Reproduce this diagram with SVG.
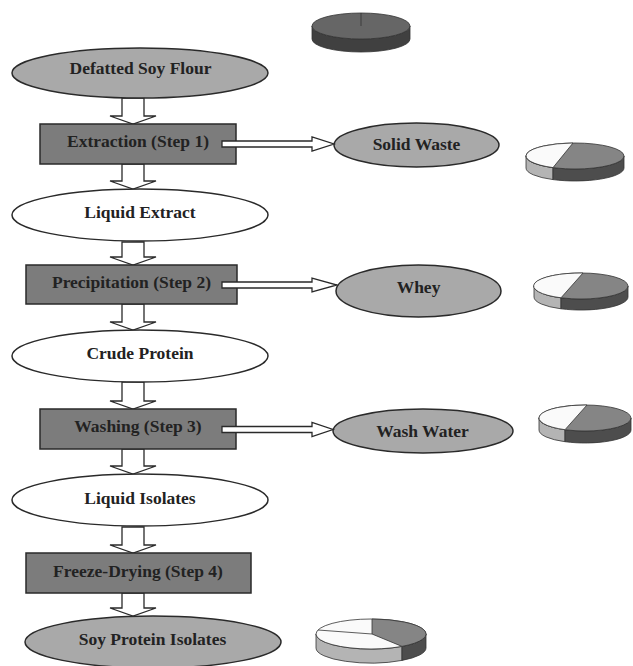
<svg xmlns="http://www.w3.org/2000/svg" width="633" height="666" viewBox="0 0 633 666">
<style>
.gray{fill:#a9a9a9;stroke:#2a2a2a;stroke-width:1.5}
.white{fill:#ffffff;stroke:#2a2a2a;stroke-width:1.5}
.box{fill:#7c7c7c;stroke:#2a2a2a;stroke-width:1.5}
.arr{fill:#ffffff;stroke:#2a2a2a;stroke-width:1.3;stroke-linejoin:miter}
text{font-family:"Liberation Serif","Times New Roman",serif;font-weight:bold;font-size:17.5px;fill:#222;text-anchor:middle}
.pe{stroke:#333;stroke-width:0.8}
</style>
<rect width="633" height="666" fill="#ffffff"/>

<g id="connectors">
<polygon class="arr" points="122,98 144,98 144,116 156,116 133,124 110,116 122,116"/>
<polygon class="arr" points="122,164 144,164 144,181 156,181 133,189 110,181 122,181"/>
<polygon class="arr" points="122,242 144,242 144,257 156,257 133,265 110,257 122,257"/>
<polygon class="arr" points="122,304 144,304 144,322 156,322 133,330 110,322 122,322"/>
<polygon class="arr" points="122,382 144,382 144,401 156,401 133,409 110,401 122,401"/>
<polygon class="arr" points="122,449 144,449 144,466 156,466 133,474 110,466 122,466"/>
<polygon class="arr" points="122,527 144,527 144,545 156,545 133,553 110,545 122,545"/>
<polygon class="arr" points="122,593 144,593 144,608 156,608 133,616 110,608 122,608"/>
</g>

<g id="n1"><ellipse class="gray" cx="140" cy="73" rx="128" ry="25"/><text x="140.5" y="74">Defatted Soy Flour</text></g>
<g id="n2"><rect class="box" x="40" y="124" width="196" height="40"/><text x="138" y="147">Extraction (Step 1)</text></g>
<g id="n3"><ellipse class="white" cx="140" cy="215" rx="128" ry="26"/><text x="140" y="218">Liquid Extract</text></g>
<g id="n4"><rect class="box" x="26" y="265" width="211" height="39"/><text x="131.5" y="288">Precipitation (Step 2)</text></g>
<g id="n5"><ellipse class="white" cx="140" cy="356" rx="128" ry="26"/><text x="140" y="359">Crude Protein</text></g>
<g id="n6"><rect class="box" x="40" y="409" width="196" height="40"/><text x="138" y="432">Washing (Step 3)</text></g>
<g id="n7"><ellipse class="white" cx="140" cy="500" rx="128" ry="26"/><text x="140" y="504">Liquid Isolates</text></g>
<g id="n8"><rect class="box" x="26" y="553" width="225" height="40"/><text x="138" y="577">Freeze-Drying (Step 4)</text></g>
<g id="n9"><ellipse class="gray" cx="153" cy="642" rx="128" ry="26"/><text x="152.5" y="645">Soy Protein Isolates</text></g>

<g id="n10"><ellipse class="gray" cx="416.5" cy="145" rx="82.5" ry="22"/><text x="416.5" y="150">Solid Waste</text></g>
<g id="n11"><ellipse class="gray" cx="418.5" cy="291" rx="82.5" ry="26"/><text x="418.5" y="293">Whey</text></g>
<g id="n12"><ellipse class="gray" cx="423" cy="431" rx="90" ry="22"/><text x="422.5" y="437">Wash Water</text></g>

<g id="side-arrows">
<polygon class="arr" points="222,141 312,141 312,137 334,144 312,151 312,147 222,147"/>
<polygon class="arr" points="222,282 312,282 312,278 337,285 312,292 312,288 222,288"/>
<polygon class="arr" points="222,426.5 312,426.5 312,422.5 333,429.5 312,436.5 312,432.5 222,432.5"/>
</g>

<g id="pie1">
<path class="pe" fill="#404040" d="M312,26 L312,39 A49,13 0 0 0 410,39 L410,26 A49,13 0 0 1 312,26 Z"/>
<ellipse class="pe" fill="#666666" cx="361" cy="26" rx="49" ry="13"/>
<line class="pe" x1="361" y1="26" x2="361" y2="13"/>
</g>

<g id="pie2">
<path class="pe" fill="#b4b4b4" d="M526,156 L526,168 A49,13 0 0 0 553,179.6 L553,167.6 A49,13 0 0 1 526,156 Z"/>
<path class="pe" fill="#4d4d4d" d="M553,167.6 L553,179.6 A49,13 0 0 0 624,168 L624,156 A49,13 0 0 1 553,167.6 Z"/>
<ellipse class="pe" fill="#858585" cx="575" cy="156" rx="49" ry="13"/>
<path class="pe" fill="#fafafa" d="M573,143 A49,13 0 0 0 553,167.6 Z"/>
</g>

<g id="pie3">
<path class="pe" fill="#b4b4b4" d="M534,286 L534,297 A47,13 0 0 0 561,308.8 L561,297.8 A47,13 0 0 1 534,286 Z"/>
<path class="pe" fill="#4d4d4d" d="M561,297.8 L561,308.8 A47,13 0 0 0 628,297 L628,286 A47,13 0 0 1 561,297.8 Z"/>
<ellipse class="pe" fill="#858585" cx="581" cy="286" rx="47" ry="13"/>
<path class="pe" fill="#fafafa" d="M583,273 A47,13 0 0 0 561,297.8 Z"/>
</g>

<g id="pie4">
<path class="pe" fill="#b4b4b4" d="M539,418 L539,430 A46,13 0 0 0 565,441.7 L565,429.7 A46,13 0 0 1 539,418 Z"/>
<path class="pe" fill="#4d4d4d" d="M565,429.7 L565,441.7 A46,13 0 0 0 631,430 L631,418 A46,13 0 0 1 565,429.7 Z"/>
<ellipse class="pe" fill="#858585" cx="585" cy="418" rx="46" ry="13"/>
<path class="pe" fill="#fafafa" d="M587,405 A46,13 0 0 0 565,429.7 Z"/>
</g>

<g id="pie5">
<path class="pe" fill="#b4b4b4" d="M316,634 L316,648 A55,15 0 0 0 402,660.4 L402,646.4 A55,15 0 0 1 316,634 Z"/>
<path class="pe" fill="#4d4d4d" d="M402,646.4 L402,660.4 A55,15 0 0 0 426,648 L426,634 A55,15 0 0 1 402,646.4 Z"/>
<ellipse class="pe" fill="#fafafa" cx="371" cy="634" rx="55" ry="15"/>
<path class="pe" fill="#858585" d="M372,634 L372,619 A55,15 0 0 1 402,646.4 Z"/>
<line class="pe" x1="372" y1="634" x2="318" y2="630"/>
</g>
</svg>
